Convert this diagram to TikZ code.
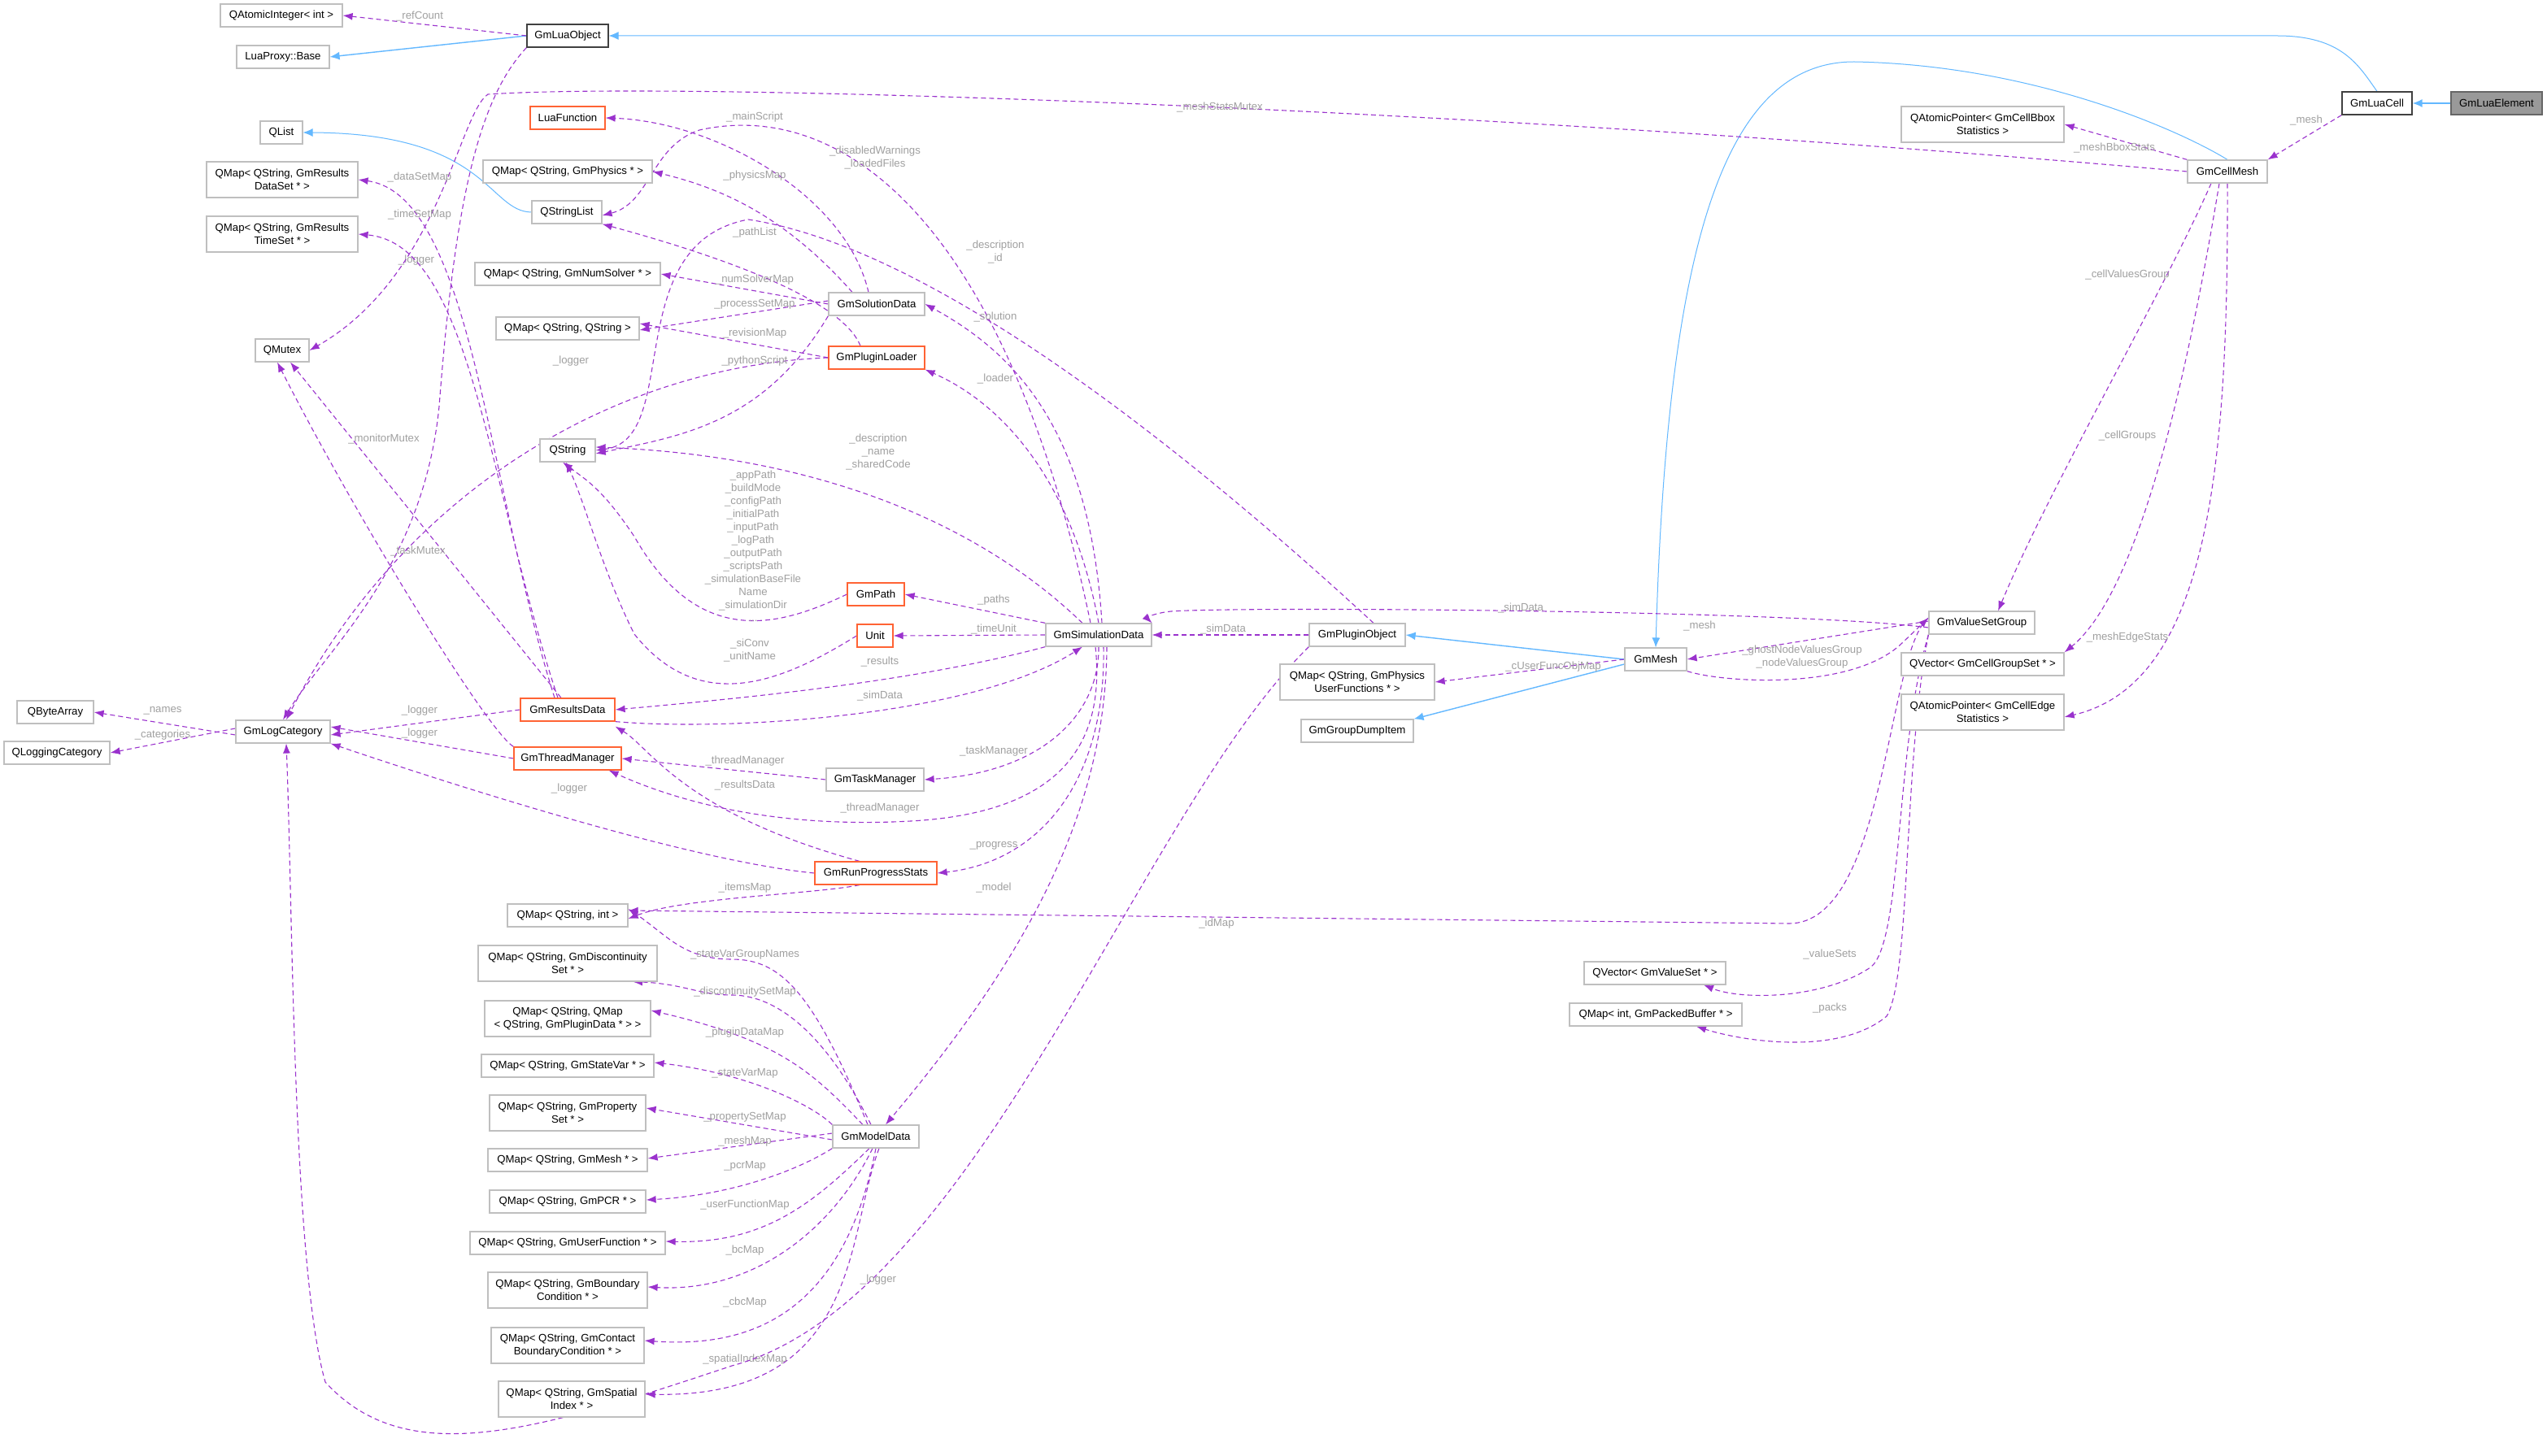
\documentclass[tikz,border=0pt]{standalone}
\usepackage{fontspec}
\setmainfont{Liberation Sans}
\usetikzlibrary{arrows.meta,backgrounds}
\definecolor{mem}{RGB}{154,50,205}
\definecolor{inh}{RGB}{99,184,255}
\definecolor{org}{RGB}{255,99,52}
\definecolor{bx}{RGB}{191,191,191}
\definecolor{lb}{RGB}{160,160,160}
\begin{document}
\begin{tikzpicture}[x=1pt,y=-1pt,
  every node/.style={font=\fontsize{6.6}{8}\selectfont},
  box/.style={draw=bx,fill=white,line width=0.6pt,minimum height=14pt,inner sep=1.5pt,align=center},
  box2/.style={box,minimum height=22pt},
  obox/.style={box,draw=org},
  m/.style={draw=mem,dashed,dash pattern=on 3pt off 2pt,line width=0.55pt,-{Latex[length=6pt,width=4.5pt]}},
  ih/.style={draw=inh,line width=0.7pt,-{Latex[length=6pt,width=5pt]}},
  ihs/.style={draw=inh,line width=0.5pt,-{Latex[length=6pt,width=5pt]}},
  lbl/.style={text=lb,align=center,inner sep=0pt,font=\fontsize{6.6}{8}\selectfont}]
\useasboundingbox (0,0) rectangle (1566,895.5);
\newcommand{\lb}[4]{\node[lbl] (#1) at (#2,#3) {#4};}
% nodes
\node[box,minimum width=75pt] (qai) at (173,9.5) {QAtomicInteger< int >};
\node[box,minimum width=57pt] (lpb) at (174,35) {LuaProxy::Base};
\node[box,draw=black!75,minimum width=50pt] (glo) at (349,22) {GmLuaObject};
\node[box,minimum width=26pt] (qlist) at (173,81.5) {QList};
\node[box2,minimum width=93pt] (qds) at (173.5,110.5) {QMap< QString, GmResults\\DataSet * >};
\node[box2,minimum width=93pt] (qts) at (173.5,144) {QMap< QString, GmResults\\TimeSet * >};
\node[box,minimum width=33pt] (qmutex) at (173.5,215.5) {QMutex};
\node[box,minimum width=47pt] (qba) at (34,438) {QByteArray};
\node[box,minimum width=65pt] (qlc) at (35,463) {QLoggingCategory};
\node[box,minimum width=58pt] (glc) at (174,450) {GmLogCategory};
\node[obox,minimum width=46pt] (luaf) at (349,72.5) {LuaFunction};
\node[box,minimum width=104pt] (qphys) at (349,105.5) {QMap< QString, GmPhysics * >};
\node[box,minimum width=43pt] (qsl) at (348.5,130.5) {QStringList};
\node[box,minimum width=114pt] (qnum) at (349,168.5) {QMap< QString, GmNumSolver * >};
\node[box,minimum width=88pt] (qss) at (349,202) {QMap< QString, QString >};
\node[box,minimum width=34pt] (qstr) at (349,277) {QString};
\node[box,minimum width=59pt] (gsol) at (539,187) {GmSolutionData};
\node[obox,minimum width=59pt] (gpl) at (539,220) {GmPluginLoader};
\node[obox,minimum width=35pt] (gpath) at (538.5,365.5) {GmPath};
\node[obox,minimum width=22pt] (unit) at (538,391) {Unit};
\node[box,minimum width=65pt] (gsim) at (675.5,390.5) {GmSimulationData};
\node[obox,minimum width=58pt] (grd) at (349,436.5) {GmResultsData};
\node[obox,minimum width=66pt] (gtm) at (349,466.5) {GmThreadManager};
\node[box,minimum width=60pt] (gtask) at (538,479.5) {GmTaskManager};
\node[obox,minimum width=75pt] (grp) at (538.5,537) {GmRunProgressStats};
\node[box,minimum width=74pt] (qsi) at (349,563) {QMap< QString, int >};
\node[box2,minimum width=110pt] (qdisc) at (349,592.5) {QMap< QString, GmDiscontinuity\\Set * >};
\node[box2,minimum width=102pt] (qpd) at (349,626.5) {QMap< QString, QMap\\< QString, GmPluginData * > >};
\node[box,minimum width=106pt] (qsv) at (349,655.5) {QMap< QString, GmStateVar * >};
\node[box2,minimum width=96pt] (qprop) at (349,684.5) {QMap< QString, GmProperty\\Set * >};
\node[box,minimum width=98pt] (qmesh) at (349,713.5) {QMap< QString, GmMesh * >};
\node[box,minimum width=96pt] (qpcr) at (349,739) {QMap< QString, GmPCR * >};
\node[box,minimum width=120pt] (quf) at (349,764.5) {QMap< QString, GmUserFunction * >};
\node[box2,minimum width=98pt] (qbc) at (349,793.5) {QMap< QString, GmBoundary\\Condition * >};
\node[box2,minimum width=94pt] (qcbc) at (349,827.5) {QMap< QString, GmContact\\BoundaryCondition * >};
\node[box2,minimum width=90pt] (qsp) at (351.5,860.5) {QMap< QString, GmSpatial\\Index * >};
\node[box,minimum width=53pt] (gmd) at (538.5,699) {GmModelData};
\node[box,minimum width=59pt] (gpo) at (834.5,390.5) {GmPluginObject};
\node[box,minimum width=38pt] (gmesh) at (1018,405.5) {GmMesh};
\node[box2,minimum width=95pt] (qpuf) at (834.5,419.5) {QMap< QString, GmPhysics\\UserFunctions * >};
\node[box,minimum width=69pt] (ggd) at (834.5,449.5) {GmGroupDumpItem};
\node[box,minimum width=65pt] (gvsg) at (1218.5,383) {GmValueSetGroup};
\node[box,minimum width=100pt] (qcgs) at (1219,408.5) {QVector< GmCellGroupSet * >};
\node[box2,minimum width=100pt] (qedge) at (1219,438) {QAtomicPointer< GmCellEdge\\Statistics >};
\node[box,minimum width=87pt] (qvs) at (1017.5,598.5) {QVector< GmValueSet * >};
\node[box,minimum width=106pt] (qpb) at (1018,624) {QMap< int, GmPackedBuffer * >};
\node[box,minimum width=49pt] (gcm) at (1369.5,105.5) {GmCellMesh};
\node[box2,minimum width=100pt] (qbbox) at (1219,76.5) {QAtomicPointer< GmCellBbox\\Statistics >};
\node[box,draw=black!75,minimum width=43pt] (glcell) at (1461.5,63.5) {GmLuaCell};
\node[box,draw=black!60,fill=black!40,minimum width=56pt] (glel) at (1535,63.5) {GmLuaElement};
\begin{pgfonlayer}{background}
\fill[white] (0,0) rectangle (1566,895.5);
% inheritance
\draw[ih] (glel) -- (glcell);
\draw[ihs] (glcell.north) .. controls (1450,40) and (1440,22) .. (1400,22) -- (glo.east);
\draw[ih] (glo.west) -- (lpb.east);
\draw[ihs] (gcm.north) .. controls (1340,80) and (1250,40) .. (1140,38) .. controls (1060,38) and (1025,150) .. (gmesh.north);
\draw[ih] (gmesh.west) -- (gpo.east);
\draw[ih] ([yshift=-3pt]gmesh.west) -- (ggd.north east);
\draw[ihs] (qsl.west) .. controls (300,130) and (300,82) .. (qlist.east);
% members: top-left
\draw[m] (glo.west) -- (qai.east); \lb{l1}{258}{10}{\_refCount}
\draw[m] (glo.south west) .. controls (295,60) and (280,120) .. (270,250) .. controls (260,350) and (200,400) .. (glc.north); \lb{l2}{256}{160}{\_logger}
\draw[m] (gcm.west) .. controls (900,66) and (420,50) .. (300,58) .. controls (282,70) and (270,170) .. (qmutex.east); \lb{l3}{750}{66}{\_meshStatsMutex}
\draw[m] ([xshift=-8pt]grd.north) .. controls (300,300) and (290,120) .. (qds.east); \lb{l4}{258}{109}{\_dataSetMap}
\draw[m] ([xshift=-6pt]grd.north) .. controls (300,300) and (290,150) .. (qts.east); \lb{l5}{258}{132}{\_timeSetMap}
\draw[m] ([xshift=-4pt]grd.north) -- ([xshift=5pt]qmutex.south); \lb{l6}{236}{270}{\_monitorMutex}
\draw[m] (gtm.north west) .. controls (300,450) and (220,320) .. ([xshift=-3pt]qmutex.south); \lb{l7}{257}{339}{\_taskMutex}
\draw[m] (grd.west) -- ([yshift=-2pt]glc.east); \lb{l8}{258}{437}{\_logger}
\draw[m] (gtm.west) -- ([yshift=3pt]glc.east); \lb{l9}{258}{451}{\_logger}
\draw[m] (grp.west) .. controls (430,530) and (300,490) .. (glc.south east); \lb{l10}{350}{485}{\_logger}
\draw[m] (gpl.west) .. controls (380,225) and (250,300) .. ([xshift=2pt]glc.north); \lb{l11}{351}{222}{\_logger}
\draw[m] ([yshift=-2pt]glc.west) -- (qba.east); \lb{l12}{100}{437}{\_names}
\draw[m] ([yshift=2pt]glc.west) -- (qlc.east); \lb{l13}{100}{452}{\_categories}
% solution data / plugin loader
\draw[m] ([xshift=-5pt]gsol.north) .. controls (520,120) and (440,75) .. (luaf.east); \lb{l14}{464}{72}{\_mainScript}
\draw[m] ([xshift=-15pt]gsol.north) .. controls (480,130) and (440,115) .. (qphys.east); \lb{l15}{464}{108}{\_physicsMap}
\draw[m] ([xshift=-10pt]gpl.north) .. controls (520,190) and (470,165) .. (qsl.south east); \lb{l16}{464}{143}{\_pathList}
\draw[m] (gsol.west) -- (qnum.east); \lb{l17}{464}{172}{\_numSolverMap}
\draw[m] ([yshift=2pt]gsol.west) -- ([yshift=-1pt]qss.east); \lb{l18}{464}{187}{\_processSetMap}
\draw[m] (gpl.west) -- ([yshift=3pt]qss.east); \lb{l19}{464}{205}{\_revisionMap}
\draw[m] (gsol.south west) .. controls (470,260) and (420,268) .. ([yshift=-2pt]qstr.east); \lb{l20}{464}{222}{\_pythonScript}
\draw[m] ([xshift=10pt]gpo.north) .. controls (700,250) and (560,150) .. (460,135) .. controls (380,150) and (420,270) .. (qstr.east); \lb{l21}{612}{155}{\_description\\\_id}
\draw[m] ([xshift=-5pt]gsim.north) .. controls (620,140) and (520,60) .. (430,80) .. controls (400,90) and (400,125) .. ([yshift=-2pt]qsl.east); \lb{l22}{538}{97}{\_disabledWarnings\\\_loadedFiles}
\draw[m] ([xshift=-10pt]gsim.north) .. controls (600,320) and (500,280) .. ([yshift=2pt]qstr.east); \lb{l23}{540}{278}{\_description\\\_name\\\_sharedCode}
\draw[m] ([xshift=2pt]gsim.north) .. controls (670,260) and (620,215) .. (gsol.east); \lb{l24}{612}{195}{\_solution}
\draw[m] ([xshift=0pt]gsim.north) .. controls (660,300) and (620,250) .. (gpl.south east); \lb{l25}{612}{233}{\_loader}
\draw[m] (gpath.west) .. controls (480,385) and (430,400) .. (390,330) .. controls (370,300) and (360,295) .. ([xshift=-3pt]qstr.south); \lb{l26}{463}{336}{\_appPath\\\_buildMode\\\_configPath\\\_initialPath\\\_inputPath\\\_logPath\\\_outputPath\\\_scriptsPath\\\_simulationBaseFile\\Name\\\_simulationDir\\...}
\draw[m] (unit.west) .. controls (480,420) and (430,440) .. (390,390) .. controls (370,350) and (360,310) .. ([xshift=-1pt]qstr.south); \lb{l27}{461}{400}{\_siConv\\\_unitName}
\draw[m] (gsim.north west) -- (gpath.east); \lb{l28}{611}{369}{\_paths}
\draw[m] (gsim.west) -- (unit.east); \lb{l29}{611}{387}{\_timeUnit}
\draw[m] (gsim.south west) .. controls (560,420) and (450,430) .. (grd.east); \lb{l30}{541}{407}{\_results}
\draw[m] (grd.south east) .. controls (450,450) and (600,440) .. ([xshift=-10pt]gsim.south); \lb{l31}{541}{428}{\_simData}
\draw[m] (gtask.west) -- (gtm.east); \lb{l32}{458}{468}{\_threadManager}
\draw[m] ([xshift=-10pt]grp.north) .. controls (420,500) and (400,460) .. ([yshift=-3pt]grd.south east); \lb{l33}{458}{483}{\_resultsData}
\draw[m] ([xshift=-2pt]gsim.south) .. controls (680,460) and (650,500) .. (560,505) .. controls (470,510) and (410,490) .. ([xshift=-8pt]gtm.south east); \lb{l34}{541}{497}{\_threadManager}
\draw[m] ([xshift=0pt]gsim.south) .. controls (676,440) and (640,475) .. (gtask.east); \lb{l35}{611}{462}{\_taskManager}
\draw[m] ([xshift=3pt]gsim.south) .. controls (680,480) and (640,530) .. (grp.east); \lb{l36}{611}{520}{\_progress}
\draw[m] ([xshift=5pt]gsim.south) .. controls (680,500) and (630,590) .. ([xshift=6pt]gmd.north); \lb{l37}{611}{546}{\_model}
\draw[m] ([xshift=-10pt]grp.south) .. controls (500,550) and (420,552) .. ([yshift=-2pt]qsi.east); \lb{l38}{458}{546}{\_itemsMap}
\draw[m] ([yshift=3pt]gvsg.west) .. controls (1160,400) and (1160,568) .. (1100,568) -- ([yshift=3pt]qsi.east); \lb{l39}{748}{568}{\_idMap}
% model data maps
\draw[m] ([xshift=-5pt]gmd.north) .. controls (500,610) and (480,590) .. (450,590) .. controls (420,590) and (410,575) .. ([yshift=4pt]qsi.east); \lb{l40}{458}{587}{\_stateVarGroupNames}
\draw[m] ([xshift=-3pt]gmd.north) .. controls (510,640) and (480,612) .. (450,612) .. controls (430,612) and (420,605) .. ([xshift=40pt]qdisc.south); \lb{l41}{458}{610}{\_discontinuitySetMap}
\draw[m] ([xshift=-8pt]gmd.north) .. controls (500,660) and (480,640) .. ([yshift=5pt]qpd.east); \lb{l42}{458}{635}{\_pluginDataMap}
\draw[m] (gmd.north west) .. controls (500,680) and (460,660) .. ([yshift=2pt]qsv.east); \lb{l43}{458}{660}{\_stateVarMap}
\draw[m] ([yshift=-2pt]gmd.west) -- ([yshift=3pt]qprop.east); \lb{l44}{458}{687}{\_propertySetMap}
\draw[m] ([yshift=2pt]gmd.west) -- ([yshift=1pt]qmesh.east); \lb{l45}{458}{702}{\_meshMap}
\draw[m] (gmd.south west) .. controls (490,720) and (450,735) .. ([yshift=1pt]qpcr.east); \lb{l46}{458}{717}{\_pcrMap}
\draw[m] ([xshift=-4pt]gmd.south) .. controls (500,740) and (470,765) .. ([yshift=1pt]quf.east); \lb{l47}{458}{741}{\_userFunctionMap}
\draw[m] ([xshift=-2pt]gmd.south) .. controls (510,760) and (460,795) .. ([yshift=2pt]qbc.east); \lb{l48}{458}{769}{\_bcMap}
\draw[m] ([xshift=0pt]gmd.south) .. controls (520,800) and (470,830) .. ([yshift=3pt]qcbc.east); \lb{l49}{458}{801}{\_cbcMap}
\draw[m] ([xshift=2pt]gmd.south) .. controls (520,760) and (530,860) .. ([yshift=3pt]qsp.east); \lb{l50}{458}{836}{\_spatialIndexMap}
\draw[m] (gpo.south west) .. controls (700,500) and (600,800) .. (450,840) .. controls (330,880) and (250,905) .. (200,850) .. controls (180,780) and (180,560) .. ([xshift=2pt]glc.south); \lb{l51}{540}{787}{\_logger}
% right side
\draw[m] (gpo.west) -- (gsim.east); \lb{l52}{752}{387}{\_simData}
\draw[m] ([yshift=-3pt]gvsg.west) .. controls (1100,375) and (760,373) .. (720,376) .. controls (710,377) and (705,380) .. (gsim.north east); \lb{l53}{935}{374}{\_simData}
\draw[m] ([yshift=1pt]gvsg.west) -- (gmesh.east); \lb{l54}{1045}{385}{\_mesh}
\draw[m] (gmesh.south east) .. controls (1060,420) and (1140,425) .. (1170,395) -- ([yshift=3pt]gvsg.west); \lb{l55}{1108}{404}{\_ghostNodeValuesGroup\\\_nodeValuesGroup}
\draw[m] (gmesh.west) -- (qpuf.east); \lb{l56}{955}{410}{\_cUserFuncObjMap}
\draw[m] (gvsg.south west) .. controls (1165,460) and (1170,580) .. (1150,595) .. controls (1120,615) and (1070,615) .. ([xshift=30pt]qvs.south); \lb{l57}{1125}{587}{\_valueSets}
\draw[m] (gvsg.south west) .. controls (1170,470) and (1175,600) .. (1160,625) .. controls (1130,650) and (1070,640) .. ([xshift=25pt]qpb.south); \lb{l58}{1125}{620}{\_packs}
\draw[m] (gcm.north west) -- (qbbox.east); \lb{l59}{1300}{91}{\_meshBboxStats}
\draw[m] ([xshift=-10pt]gcm.south) .. controls (1330,180) and (1260,300) .. ([xshift=10pt]gvsg.north); \lb{l60}{1308}{169}{\_cellValuesGroup}
\draw[m] ([xshift=-5pt]gcm.south) .. controls (1350,200) and (1320,360) .. (qcgs.north east); \lb{l61}{1308}{268}{\_cellGroups}
\draw[m] ([xshift=0pt]gcm.south) .. controls (1370,280) and (1360,420) .. ([yshift=-3pt]qedge.east); \lb{l62}{1308}{392}{\_meshEdgeStats}
\draw[m] (glcell.south west) -- (gcm.north east); \lb{l63}{1418}{74}{\_mesh}
\end{pgfonlayer}
\end{tikzpicture}
\end{document}
